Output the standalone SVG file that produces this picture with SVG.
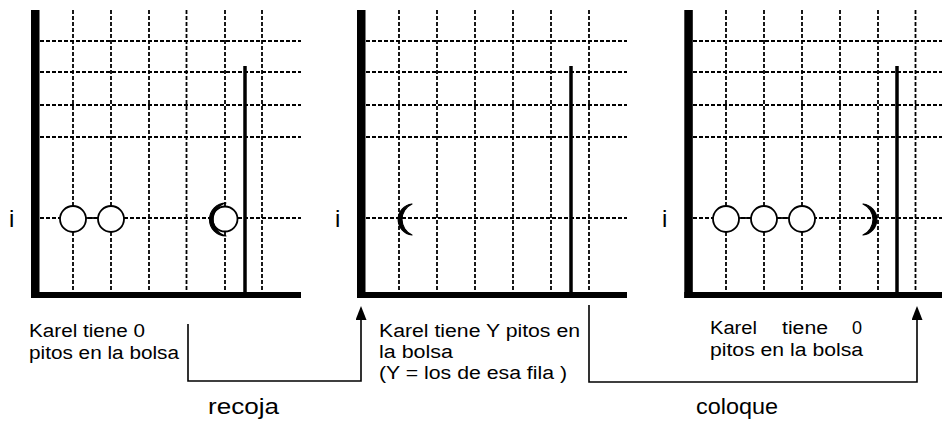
<svg xmlns="http://www.w3.org/2000/svg" width="942" height="423" viewBox="0 0 942 423">
<style>
.grid{stroke:#000;stroke-width:1.8;stroke-dasharray:4 2;fill:none}
.bar{fill:#000}
.wall{stroke:#000;stroke-width:3.5;fill:none}
.beeper{fill:#fff;stroke:#000;stroke-width:1.8}
.link{stroke:#000;stroke-width:1.8}
.karel{fill:#000;stroke:#000;stroke-width:1.2;stroke-linejoin:round}
.conn{stroke:#000;stroke-width:1.6;fill:none}
.t{font-family:"Liberation Sans",Arial,sans-serif;font-size:18px;fill:#000}
.lbl{font-family:"Liberation Sans",Arial,sans-serif;font-size:22px;fill:#000}
.i{font-family:"Liberation Sans",Arial,sans-serif;font-size:24px;fill:#000}
</style>
<defs>
<marker id="arr" viewBox="0 0 14 11" refX="11" refY="5.5" markerWidth="14" markerHeight="11" markerUnits="userSpaceOnUse" orient="auto">
<path d="M0,0 L14,5.5 L0,11 Z" fill="#000"/>
</marker>
</defs>

<g id="panel1">
<path class="grid" d="M40,41H301M40,72H301M40,105H301M40,137H301M40,218H301"/>
<path class="grid" d="M73,10V292M111,10V292M149,10V292M186.5,10V292M225,10V292M262,10V292"/>
<rect class="bar" x="31" y="10" width="8.5" height="288"/>
<rect class="bar" x="31" y="292" width="270" height="6"/>
<line class="wall" x1="245" y1="66" x2="245" y2="292"/>
<line class="link" x1="86" y1="218" x2="98" y2="218"/>
<circle class="beeper" cx="73" cy="219" r="13"/>
<circle class="beeper" cx="111" cy="219" r="13"/>
<circle class="beeper" cx="225" cy="219" r="12.5"/>
<path class="karel" d="M226,203 A15.6,15.6 0 0 0 226,236 A17,17 0 0 1 226,203 Z"/>
<text class="i" x="9" y="227">i</text>
</g>

<g id="panel2">
<path class="grid" d="M366,41H627M366,72H627M366,105H627M366,137H627M366,218H627"/>
<path class="grid" d="M399,10V292M437,10V292M475,10V292M513,10V292M551,10V292M589,10V292"/>
<rect class="bar" x="357" y="10" width="8.5" height="288"/>
<rect class="bar" x="357" y="292" width="270" height="6"/>
<line class="wall" x1="571" y1="66" x2="571" y2="292"/>
<path class="karel" d="M412,204 A15.6,15.6 0 0 0 412,235 A17,17 0 0 1 412,204 Z"/>
<text class="i" x="335" y="227">i</text>
</g>

<g id="panel3">
<path class="grid" d="M693,41H942M693,72H942M693,105H942M693,137H942M693,218H942"/>
<path class="grid" d="M726,10V292M764,10V292M802,10V292M840,10V292M878,10V292M915.5,10V292"/>
<rect class="bar" x="684.3" y="10" width="8.5" height="288"/>
<rect class="bar" x="684.3" y="292" width="258" height="6"/>
<line class="wall" x1="897" y1="66" x2="897" y2="292"/>
<line class="link" x1="739" y1="218" x2="751" y2="218"/>
<line class="link" x1="777" y1="218" x2="789" y2="218"/>
<circle class="beeper" cx="726" cy="219" r="13"/>
<circle class="beeper" cx="764" cy="219" r="13"/>
<circle class="beeper" cx="802" cy="219" r="13"/>
<path class="karel" d="M863,204 A15.6,15.6 0 0 1 863,235 A17,17 0 0 0 863,204 Z"/>
<text class="i" x="662" y="227">i</text>
</g>

<g id="caption1">
<text class="t" x="29" y="337" textLength="116" lengthAdjust="spacingAndGlyphs">Karel tiene 0</text>
<text class="t" x="29" y="359" textLength="150" lengthAdjust="spacingAndGlyphs">pitos en la bolsa</text>
</g>
<g id="caption2">
<text class="t" x="379" y="337" textLength="201" lengthAdjust="spacingAndGlyphs">Karel tiene Y pitos en</text>
<text class="t" x="379" y="358" textLength="74" lengthAdjust="spacingAndGlyphs">la bolsa</text>
<text class="t" x="379" y="379" textLength="188" lengthAdjust="spacingAndGlyphs">(Y = los de esa fila )</text>
</g>
<g id="caption3">
<text class="t" y="334"><tspan x="710" textLength="47" lengthAdjust="spacingAndGlyphs">Karel</tspan><tspan x="782" textLength="46" lengthAdjust="spacingAndGlyphs">tiene</tspan><tspan x="852">0</tspan></text>
<text class="t" x="710" y="356" textLength="153" lengthAdjust="spacingAndGlyphs">pitos en la bolsa</text>
</g>

<g id="connectors">
<path class="conn" d="M188,324V381H361V309" marker-end="url(#arr)"/>
<path class="conn" d="M589,305V382H917V309" marker-end="url(#arr)"/>
</g>

<g id="labels">
<text class="lbl" x="208" y="414" textLength="71" lengthAdjust="spacingAndGlyphs">recoja</text>
<text class="lbl" x="696" y="414" textLength="82" lengthAdjust="spacingAndGlyphs">coloque</text>
</g>
</svg>
